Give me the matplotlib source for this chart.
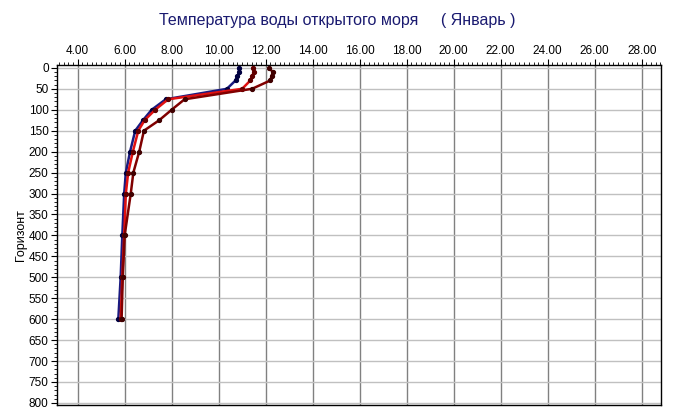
import matplotlib
matplotlib.use('Agg')
import matplotlib.pyplot as plt
from matplotlib.ticker import MultipleLocator, FormatStrFormatter

plt.rcParams['font.family'] = ['Liberation Sans', 'DejaVu Sans']

# горизонты, м
depths = [0, 10, 20, 30, 50, 75, 100, 125, 150, 200, 250, 300, 400, 500, 600]

# температура по трем сериям
temp_blue = [10.85, 10.88, 10.8, 10.72, 10.35, 7.75, 7.15, 6.78, 6.45, 6.23, 6.05, 5.98, 5.9, 5.83, 5.73]
temp_red = [11.45, 11.5, 11.42, 11.35, 11.0, 7.85, 7.3, 6.85, 6.58, 6.35, 6.15, 6.05, 5.98, 5.9, 5.83]
temp_dark = [12.15, 12.3, 12.25, 12.2, 11.42, 8.55, 8.0, 7.47, 6.82, 6.62, 6.37, 6.26, 6.0, 5.92, 5.87]

series = [
    (temp_blue, '#1a1a80', '#000040'),
    (temp_red, '#e01010', '#600000'),
    (temp_dark, '#800000', '#400000'),
]

fig = plt.figure(figsize=(6.75, 4.19), dpi=100)
ax = fig.add_axes([0.0844, 0.0334, 0.8948, 0.8116])

for temps, col, mcol in series:
    ax.plot(temps, depths, '-', color=col, lw=1.8, marker='o', markersize=2.8,
            markerfacecolor=mcol, markeredgecolor=mcol, zorder=3)

ax.set_xlim(3.12, 28.82)
ax.set_ylim(805, -7)

ax.xaxis.tick_top()
ax.xaxis.set_major_locator(MultipleLocator(2))
ax.xaxis.set_minor_locator(MultipleLocator(0.2))
ax.xaxis.set_major_formatter(FormatStrFormatter('%.2f'))
ax.yaxis.set_major_locator(MultipleLocator(50))
ax.yaxis.set_minor_locator(MultipleLocator(10))

ax.tick_params(axis='both', which='major', labelsize=8.5, length=4, width=0.8, color='black', pad=2)
ax.tick_params(axis='both', which='minor', length=2, width=0.6)
ax.tick_params(axis='y', which='both', left=True, right=False)
ax.tick_params(axis='x', which='both', top=True, bottom=False)

ax.grid(True, axis='x', which='major', color='#808080', lw=1.0)
ax.grid(True, axis='y', which='major', color='#c0c0c0', lw=1.0)
ax.set_axisbelow(True)

for sp in ax.spines.values():
    sp.set_color('black')
    sp.set_linewidth(1.0)

ax.set_ylabel('Горизонт', fontsize=9)
ax.yaxis.set_label_coords(-0.05, 0.5)
fig.text(0.5, 0.95, 'Температура воды открытого моря     ( Январь )',
         ha='center', va='center', fontsize=11.5, color='#1a1a70')

fig.savefig('out.png', dpi=100)
